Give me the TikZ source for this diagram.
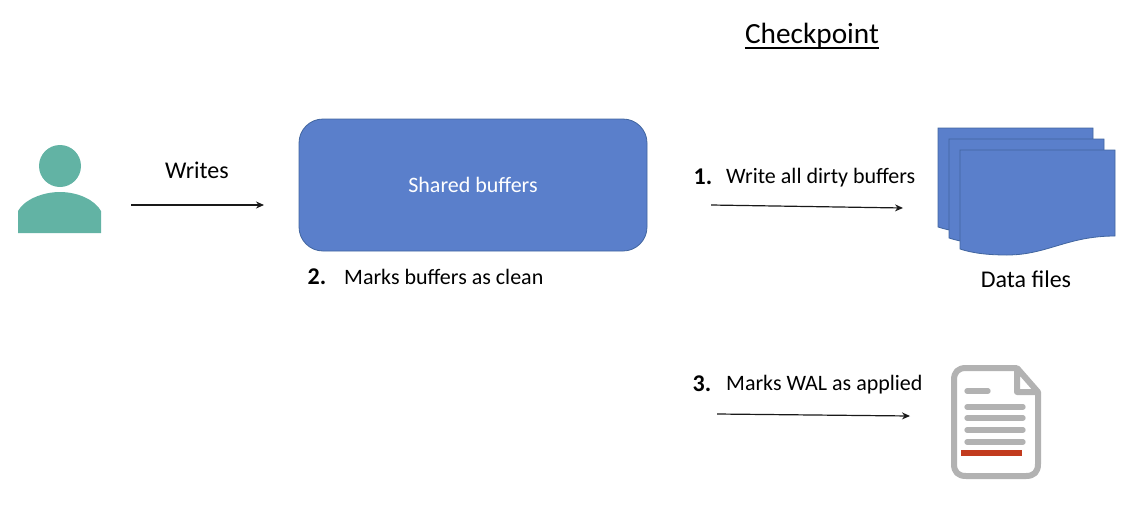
\documentclass[tikz,border=0pt]{standalone}
\usepackage{fontspec}
\setmainfont{Carlito}
\usetikzlibrary{arrows.meta,positioning}
\definecolor{bufblue}{HTML}{5A7FCB}
\definecolor{bufedge}{HTML}{41659F}
\definecolor{userteal}{HTML}{62B3A4}
\definecolor{docgray}{HTML}{B2B2B2}
\definecolor{docred}{HTML}{C23B1E}
\tikzset{
  txt/.style={inner sep=0pt,font=\fontsize{22}{26}\selectfont,text=black},
  bigtxt/.style={inner sep=0pt,font=\fontsize{24}{28}\selectfont,text=black},
  stepnum/.style={inner sep=0pt,font=\fontsize{24}{28}\selectfont\bfseries,text=black},
  flow/.style={-{Stealth[length=8,width=7]},line width=1.2pt,black!90},
  sheet/.style={draw=bufedge,line width=0.8pt,fill=bufblue},
  docline/.style={docgray,line width=5.3pt,line cap=round},
}
\begin{document}
\begin{tikzpicture}[x=1pt,y=-1pt,>=Stealth]
\useasboundingbox (0,0) rectangle (1139,525);

% User icon
\fill[userteal] (60,166) circle (21);
\fill[userteal] (18,233) -- (18,211) .. controls (24,200) and (42,192) .. (60,192)
  .. controls (78,192) and (95,200) .. (101,211) -- (101,233) -- cycle;

\node[bigtxt] (writes) at (197,170) {Writes};
\coordinate (writesA) at (131,205);
\coordinate (writesB) at (264,205);
\draw[flow] (writesA) -- (writesB);

% Shared buffers
\node[draw=bufedge,line width=0.8pt,fill=bufblue,rounded corners=24,minimum width=348,
  minimum height=132,inner sep=0pt,text=white,font=\fontsize{22}{26}\selectfont]
  (buffers) at (473,185) {Shared buffers};
\node[stepnum] (two) at (317,277) {2.};
\node[txt,anchor=west] (clean) at (344,277) {Marks buffers as clean};

\node[txt,anchor=base,font=\fontsize{29.3}{33}\selectfont] (checkpoint) at (812,43) {Checkpoint};
\draw[line width=2pt,black] ([yshift=-5pt]checkpoint.base west) -- ([yshift=-5pt]checkpoint.base east);

% Step 1: data files
\node[stepnum] (one) at (703,177) {1.};
\node[txt,anchor=west] (dirty) at (726,178) {Write all dirty buffers};
\coordinate (dirtyA) at (711,205);
\coordinate (dirtyB) at (903,208);
\draw[flow] (dirtyA) -- (dirtyB);

\foreach \dx/\dy in {0/0,11/11,22/22}{%
  \begin{scope}[shift={(\dx,\dy)}]
    \draw[sheet] (938,128) -- (1093,128) -- (1093,214)
      .. controls (1045,214) and (1025,233) .. (985,233)
      .. controls (965,233) and (950,231) .. (938,227) -- cycle;
  \end{scope}
}
\node[bigtxt] (files) at (1026,279) {Data files};

% Step 3: WAL
\node[stepnum] (three) at (702,384) {3.};
\node[txt,anchor=west] (wal) at (726,385) {Marks WAL as applied};
\coordinate (walA) at (717,414);
\coordinate (walB) at (910,416);
\draw[flow] (walA) -- (walB);

\draw[docgray,line width=6pt,line join=round] (1017,368) -- (966,368)
  .. controls (958,368) and (954,372) .. (954,380) -- (954,464)
  .. controls (954,472) and (958,476) .. (966,476) -- (1026,476)
  .. controls (1034,476) and (1038,472) .. (1038,464) -- (1038,392)
  -- (1017,368) -- (1017,392) -- (1038,392);
\draw[docline] (967,391) -- (988,391);
\foreach \y in {407,418,430,442}{%
  \draw[docline] (967,\y) -- (1023,\y);
}
\fill[docred] (961,450) rectangle (1022,456);
\end{tikzpicture}
\end{document}
